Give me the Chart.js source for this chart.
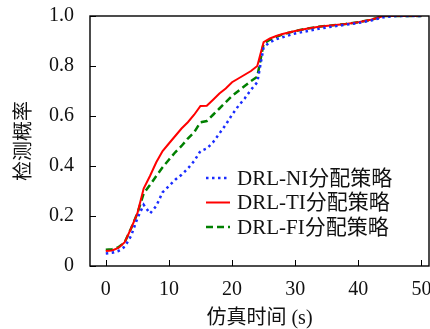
<!DOCTYPE html>
<html lang="zh">
<head>
<meta charset="UTF-8">
<title>检测概率</title>
<style>
  html, body { margin: 0; padding: 0; background: #fff; }
  #wrap { width: 430px; height: 329px; }
</style>
<script src="https://cdn.jsdelivr.net/npm/chart.js"></script>
</head>
<body>
<div id="wrap"><canvas id="c" width="430" height="329"></canvas></div>
<script>
// 仿真时间 (s)
const time = [0, 1, 2, 3, 4, 5, 6, 7, 8, 9, 10, 11, 12, 13, 14, 15, 16, 17, 18, 19, 20,
              21, 22, 23, 24, 25, 26, 27, 28, 30, 32, 34, 36, 38, 40, 42, 44, 46, 48, 50];
// 检测概率
const niProb = [0.05, 0.053, 0.06, 0.077, 0.12, 0.19, 0.245, 0.21, 0.24, 0.295, 0.32,
                0.345, 0.365, 0.39, 0.42, 0.46, 0.47, 0.495, 0.53, 0.565, 0.605,
                0.64, 0.67, 0.705, 0.735, 0.875, 0.895, 0.907, 0.915, 0.93, 0.94,
                0.95, 0.958, 0.965, 0.972, 0.982, 0.995, 1.0, 1.0, 1.0];
const tiProb = [0.06, 0.062, 0.072, 0.095, 0.15, 0.21, 0.31, 0.36, 0.415, 0.46, 0.49,
                0.52, 0.55, 0.575, 0.605, 0.64, 0.641, 0.665, 0.69, 0.71, 0.735,
                0.75, 0.765, 0.78, 0.80, 0.895, 0.91, 0.92, 0.928, 0.94, 0.95,
                0.958, 0.963, 0.968, 0.975, 0.985, 1.0, 1.0, 1.0, 1.0];
const fiProb = [0.065, 0.067, 0.075, 0.095, 0.15, 0.21, 0.29, 0.324, 0.36, 0.395, 0.425,
                0.455, 0.48, 0.51, 0.535, 0.575, 0.58, 0.605, 0.63, 0.655, 0.68,
                0.70, 0.72, 0.74, 0.757, 0.89, 0.905, 0.917, 0.926, 0.94, 0.95,
                0.958, 0.963, 0.968, 0.975, 0.985, 1.0, 1.0, 1.0, 1.0];
const seriesNames = ['DRL-NI分配策略', 'DRL-TI分配策略', 'DRL-FI分配策略'];
const xTicks = [0, 10, 20, 30, 40, 50];
const yTicks = [0, 0.2, 0.4, 0.6, 0.8, 1.0];

const serif = '"Liberation Serif", "Noto Sans CJK SC", serif';

function pts(ys) {
  return time.map((t, i) => ({ x: t, y: ys[i] }));
}

// 坐标框、向内的刻度线和图内图例
const framePlugin = {
  id: 'frame',
  afterDraw(chart) {
    const ctx = chart.ctx;
    const a = chart.chartArea;
    const xs = chart.scales.x, ys = chart.scales.y;
    ctx.save();
    ctx.strokeStyle = '#000';
    ctx.lineWidth = 1.4;
    ctx.strokeRect(a.left, a.top, a.right - a.left, a.bottom - a.top);
    ctx.lineWidth = 1;
    ctx.beginPath();
    xs.ticks.forEach(t => {
      const p = Math.round(xs.getPixelForValue(t.value)) + 0.5;
      ctx.moveTo(p, a.bottom);
      ctx.lineTo(p, a.bottom - 6);
    });
    ys.ticks.forEach(t => {
      const p = Math.round(ys.getPixelForValue(t.value)) + 0.5;
      ctx.moveTo(a.left, p);
      ctx.lineTo(a.left + 6, p);
    });
    ctx.stroke();

    // 图例
    const lx = 206, ly = 178, step = 24.5;
    chart.data.datasets.forEach((ds, i) => {
      const y = ly + i * step;
      ctx.strokeStyle = ds.borderColor;
      ctx.lineWidth = ds.borderWidth;
      ctx.setLineDash(ds.borderDash || []);
      ctx.beginPath();
      ctx.moveTo(lx, y);
      ctx.lineTo(lx + 24, y);
      ctx.stroke();
      ctx.setLineDash([]);
      ctx.fillStyle = '#111';
      ctx.font = '21px ' + serif;
      ctx.textBaseline = 'middle';
      ctx.textAlign = 'left';
      ctx.fillText(ds.label, 237, y + 1);
    });
    ctx.restore();
  }
};

new Chart(document.getElementById('c'), {
  type: 'line',
  data: {
    datasets: [
      { label: seriesNames[0], data: pts(niProb), borderColor: '#1a2cff', borderWidth: 2.5,
        borderDash: [2.5, 3.5], pointRadius: 0, fill: false, tension: 0 },
      { label: seriesNames[1], data: pts(tiProb), borderColor: '#ff0000', borderWidth: 2,
        pointRadius: 0, fill: false, tension: 0 },
      { label: seriesNames[2], data: pts(fiProb), borderColor: '#008000', borderWidth: 2.5,
        borderDash: [7, 4], pointRadius: 0, fill: false, tension: 0 }
    ]
  },
  options: {
    responsive: false,
    animation: false,
    layout: { padding: { top: 16, right: 1, left: 0, bottom: 0 } },
    plugins: { legend: { display: false }, tooltip: { enabled: false } },
    scales: {
      x: {
        type: 'linear',
        min: -2.5,
        max: 51.2,
        border: { display: false },
        grid: { display: false, drawTicks: false },
        afterBuildTicks: s => { s.ticks = xTicks.map(v => ({ value: v })); },
        ticks: { padding: 12, color: '#111', font: { family: serif, size: 20 }, maxRotation: 0 },
        title: { display: true, text: '仿真时间 (s)', color: '#111',
                 font: { family: serif, size: 20 }, padding: { top: 0, bottom: -2 } },
        afterFit: s => { s.height = 63; s.paddingLeft = 0; s.paddingRight = 0; }
      },
      y: {
        min: 0,
        max: 1.0,
        border: { display: false },
        grid: { display: false, drawTicks: false },
        afterBuildTicks: s => { s.ticks = yTicks.map(v => ({ value: v })); },
        ticks: { padding: 16, color: '#111', font: { family: serif, size: 20 },
                 callback: v => (v === 0 ? '0' : v.toFixed(1)) },
        title: { display: true, text: '检测概率', color: '#111',
                 font: { family: serif, size: 20 }, padding: { top: 13, bottom: 0 } },
        afterFit: s => { s.width = 90; s.paddingTop = 0; s.paddingBottom = 0; }
      }
    }
  },
  plugins: [framePlugin]
});
</script>
</body>
</html>
